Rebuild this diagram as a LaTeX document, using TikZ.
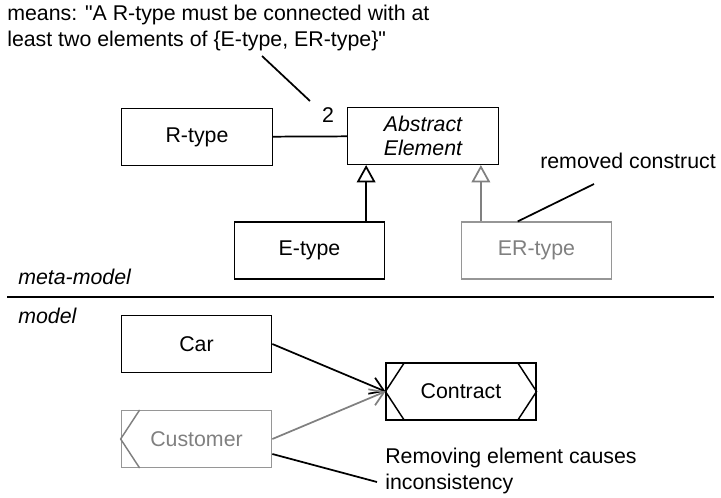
\documentclass[tikz,border=0pt]{standalone}
\usepackage{fontspec}
\setmainfont{Liberation Sans}
\usetikzlibrary{arrows.meta}
\definecolor{removed}{RGB}{128,128,128}
\definecolor{removedbox}{RGB}{150,150,150}

\begin{document}
\begin{tikzpicture}[x=0.75pt, y=-0.75pt,
  every node/.style={font=\fontsize{16}{19}\selectfont},
  box/.style={draw, line width=0.8pt, minimum width=113pt, minimum height=42.75pt, inner sep=0pt},
  gone/.style={draw=removedbox, text=removed},
  note/.style={inner sep=0pt, align=left},
  link/.style={line width=1.3pt},
  gen/.style={link, -{Triangle[open, length=13pt, width=14pt]}},
  nav/.style={link, -{Straight Barb[length=10pt, width=13pt]}}]
  \useasboundingbox (0,0) rectangle (721,497);

  % meta-model
  \node[note, anchor=west] (constraint) at (7,28) {means: \textquotedbl A R-type must be connected with at\\least two elements of \{E-type, ER-type\}\textquotedbl};
  \node[box] (Rtype) at (197,137) {R-type};
  \node[box, align=center, font=\fontsize{16}{18}\selectfont\itshape] (Abstract) at (423,136) {Abstract\\Element};
  \node[box] (Etype) at (309.5,250.5) {E-type};
  \node[box, gone] (ERtype) at (536.5,250.5) {ER-type};
  \node (mult) at (328,115) {2};
  \node[note, anchor=west] (removedNote) at (540,161) {removed construct};

  \draw[link] (Rtype) -- (Abstract);
  \coordinate (genE) at ([xshift=14.25pt]Abstract.south west);
  \coordinate (genER) at ([xshift=-13.5pt]Abstract.south east);
  \draw[gen] (Etype.north -| genE) -- (genE);
  \draw[gen, removed] (ERtype.north -| genER) -- (genER);

  \coordinate (constraintEnd) at (262,56);
  \coordinate (multEnd) at (310,101);
  \draw[link] (constraintEnd) -- (multEnd);
  \coordinate (removedEnd) at (594,184);
  \draw[link] (removedEnd) -- ([xshift=42.75pt]ERtype.north west);

  % separator
  \node[note, anchor=west, font=\fontsize{16}{19}\selectfont\itshape] (metaLabel) at (18,277) {meta-model};
  \draw[link] (7,297) -- (714,297);
  \node[note, anchor=west, font=\fontsize{16}{19}\selectfont\itshape] (modelLabel) at (18,316) {model};

  % model
  \node[box] (Car) at (196.5,344) {Car};
  \node[box, gone] (Customer) at (196.5,439) {Customer};
  \node[box, minimum width=112.5pt] (Contract) at (461,391.5) {Contract};
  \draw[line width=1.1pt] ([xshift=14.25pt]Contract.north west) -- (Contract.west) -- ([xshift=14.25pt]Contract.south west);
  \draw[line width=1.1pt] ([xshift=-14.25pt]Contract.north east) -- (Contract.east) -- ([xshift=-14.25pt]Contract.south east);
  \draw[line width=1.1pt, removed] ([xshift=14.25pt]Customer.north west) -- (Customer.west) -- ([xshift=14.25pt]Customer.south west);

  \draw[nav] (Car.east) -- (Contract.west);
  \draw[nav, removed] (Customer.east) -- (Contract.west);

  \coordinate (causeEnd) at (377,482);
  \draw[link] ([yshift=-11.25pt]Customer.east) -- (causeEnd);
  \node[note, anchor=west] (causeNote) at (385,471) {Removing element causes\\inconsistency};
\end{tikzpicture}
\end{document}
